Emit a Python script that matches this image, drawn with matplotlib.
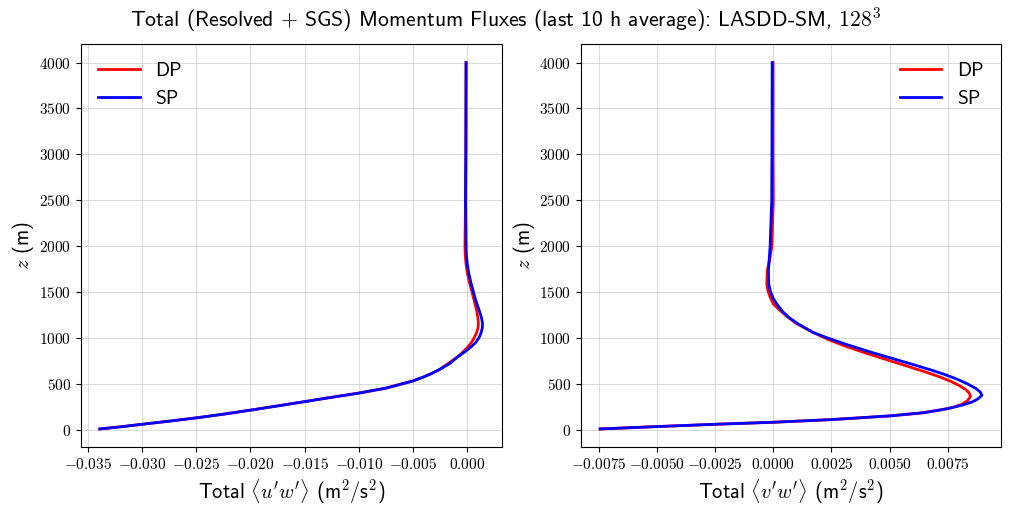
import matplotlib
matplotlib.use('Agg')
import matplotlib.pyplot as plt
from matplotlib.ticker import FuncFormatter, MultipleLocator

plt.rcParams['mathtext.fontset'] = 'cm'
plt.rcParams['axes.formatter.use_mathtext'] = True

# heights (m) and fluxes
z_uw_dp = [7, 30, 58, 92, 128, 168, 212, 258, 305, 352, 398, 452, 530, 570, 610, 650, 700,
           750, 800, 850, 899, 950, 1007, 1060, 1110, 1160, 1230, 1297, 1406, 1500, 1600,
           1700, 1800, 1900, 2000, 2500, 3000, 4000]
uw_dp = [-0.0339, -0.0320, -0.0300, -0.0275, -0.0250, -0.0225, -0.0200, -0.0175, -0.0150,
         -0.0125, -0.0100, -0.0075, -0.0050, -0.0041, -0.0033, -0.0026, -0.0020,
         -0.0014, -0.0008, -0.00035, 0.00005, 0.0004, 0.00068, 0.00088, 0.0010, 0.00104,
         0.00098, 0.00088, 0.00065, 0.00045, 0.00022,
         0.00003, -0.0001, -0.00017, -0.0002, -0.00015, -0.00012, -0.0001]

z_uw_sp = [7, 30, 58, 92, 128, 168, 212, 258, 305, 352, 398, 452, 530, 570, 610, 663, 720,
           790, 840, 899, 950, 1007, 1060, 1110, 1160, 1230, 1297, 1406, 1500, 1600,
           1700, 1800, 1900, 2000, 2500, 3000, 4000]
uw_sp = [-0.0339, -0.0320, -0.0300, -0.0275, -0.0250, -0.0225, -0.0200, -0.0175, -0.0150,
         -0.0125, -0.0100, -0.0075, -0.0050, -0.0041, -0.0033, -0.00244, -0.0016,
         -0.0009, -0.0003, 0.00034, 0.0008, 0.00112, 0.0013, 0.0014, 0.00142, 0.0013,
         0.00112, 0.0008, 0.00058, 0.00035,
         0.00016, 0.00002, -0.00007, -0.0001, -0.00015, -0.00012, -0.0001]

z_vw_dp = [7, 33, 58, 80, 109, 149, 180, 210, 240, 275, 315, 363, 400, 436, 480, 530, 580,
           630, 690, 744, 820, 900, 973, 1060, 1155, 1230, 1300, 1370, 1445, 1520, 1590,
           1736, 1850, 1990, 2498, 3043, 4000]
vw_dp = [-0.00745, -0.0050, -0.0025, 0.0, 0.0025, 0.0050, 0.0063, 0.0071, 0.0077, 0.0081,
         0.00835, 0.00848, 0.00842, 0.00828, 0.0080, 0.0076, 0.0071,
         0.00652, 0.00578, 0.0051, 0.00415, 0.0032, 0.00245, 0.0017, 0.0010, 0.0006,
         0.00028, 0.0, -0.00014, -0.00024, -0.00028,
         -0.00026, -0.00016, -0.00007, 0.0, -0.00001, -0.00001]

z_vw_sp = [7, 33, 58, 80, 109, 149, 185, 229, 265, 301, 335, 374, 410, 447, 501, 550, 600,
           650, 700, 773, 850, 930, 1000, 1060, 1155, 1220, 1282, 1350, 1427, 1510, 1590,
           1736, 1990, 2498, 3043, 4000]
vw_sp = [-0.00745, -0.0050, -0.0025, 0.0, 0.0025, 0.0050, 0.0065, 0.0075, 0.0081, 0.00855,
         0.0088, 0.00897, 0.0089, 0.00872, 0.00833, 0.0079, 0.00738,
         0.00678, 0.00613, 0.00515, 0.00412, 0.00312, 0.00232, 0.0017, 0.00105, 0.00068,
         0.00042, 0.0002, 0.0, -0.00013, -0.0002,
         -0.00021, -0.00014, -0.00007, -0.00006, -0.00005]

sans = 'cmss10'

fig = plt.figure(figsize=(10.11, 5.11), dpi=100)
ax1 = fig.add_axes([0.0798, 0.1247, 0.4164, 0.7886])
ax2 = fig.add_axes([0.5747, 0.1247, 0.4154, 0.7886])

ax1.plot(uw_dp, z_uw_dp, color='red', lw=2, label='DP')
ax1.plot(uw_sp, z_uw_sp, color='blue', lw=2, label='SP')
ax2.plot(vw_dp, z_vw_dp, color='red', lw=2, label='DP')
ax2.plot(vw_sp, z_vw_sp, color='blue', lw=2, label='SP')

ax1.xaxis.set_major_locator(MultipleLocator(0.005))
ax1.xaxis.set_major_formatter(FuncFormatter(lambda v, p: '$%.3f$' % v))
ax2.xaxis.set_major_locator(MultipleLocator(0.0025))
ax2.xaxis.set_major_formatter(FuncFormatter(lambda v, p: '$%.4f$' % v))

for ax, lab, loc in [(ax1, r"Total $\langle u'w'\rangle$ (m$^2$/s$^2$)", 'upper left'),
                     (ax2, r"Total $\langle v'w'\rangle$ (m$^2$/s$^2$)", 'upper right')]:
    ax.yaxis.set_major_locator(MultipleLocator(500))
    ax.yaxis.set_major_formatter(FuncFormatter(lambda v, p: '$%d$' % v))
    ax.tick_params(labelsize=11)
    ax.grid(True, color='#d0d0d0', lw=0.7, alpha=0.8)
    ax.set_xlabel(lab, fontsize=14.7, family=sans)
    ax.set_ylabel(r'$z$ (m)', fontsize=14.7, family=sans, labelpad=2)
    ax.legend(loc=loc, frameon=False, prop={'family': sans, 'size': 14},
              handlelength=2.15)

fig.text(0.5, 0.962, r'Total (Resolved $+$ SGS) Momentum Fluxes (last 10 h average): LASDD-SM, $128^3$',
         ha='center', va='center', fontsize=15.6, family=sans)

fig.savefig('out.png', dpi=100)
